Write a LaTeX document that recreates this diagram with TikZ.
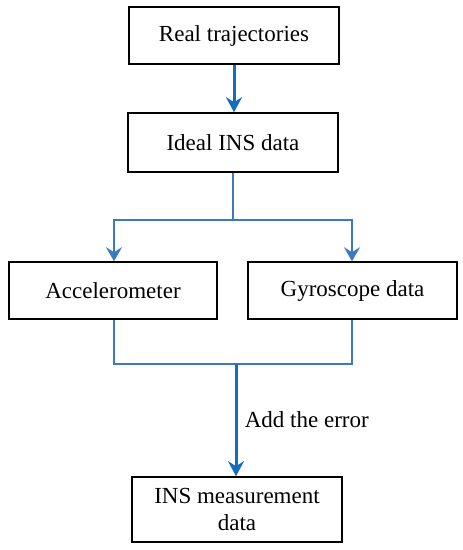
\documentclass[tikz,border=0pt]{standalone}
\usepackage{fontspec}
\setmainfont{Liberation Serif}
\usetikzlibrary{arrows.meta}
\definecolor{thickblue}{RGB}{22,108,190}
\definecolor{thinblue}{RGB}{60,122,192}
\begin{document}
\begin{tikzpicture}[x=1pt,y=-1pt,
  box/.style={draw=black,line width=1.6pt,minimum height=#1,inner sep=0pt,font=\fontsize{23}{27}\selectfont,align=center},
  box/.default=57pt,
  thick arrow/.style={draw=thickblue,line width=3pt,-{Stealth[length=15pt,width=16pt,inset=5pt]}},
  thin line/.style={draw=thinblue,line width=2pt},
  thin arrow/.style={draw=thinblue,line width=2pt,-{Stealth[length=14pt,width=16pt,inset=5pt]}}]
\useasboundingbox (0,0) rectangle (463,550);
\node[box, minimum width=210pt] (real) at (234,35.5) {Real trajectories};
\node[box=59pt, minimum width=210pt] (ideal) at (233,142.5) {Ideal INS data};
\node[box, minimum width=208pt] (acc) at (113,290.5) {Accelerometer};
\node[box, minimum width=209pt] (gyro) at (352.5,290.5) {Gyroscope data};
\node[box=65pt, minimum width=210pt] (meas) at (237,509.5) {INS measurement\\data};
\coordinate (split) at (233,220);
\coordinate (join) at (236,364);
\draw[thick arrow] (real.south) -- (real.south |- ideal.north);
\draw[thin line] (ideal.south) -- (split);
\draw[thin arrow] (split) -| ([xshift=1pt]acc.north);
\draw[thin arrow] (split) -| ([xshift=-0.5pt]gyro.north);
\draw[thin line] ([xshift=1pt]acc.south) |- (join) -| ([xshift=-0.5pt]gyro.south);
\draw[thick arrow] (join) -- (join |- meas.north) node[midway,right=4pt,font=\fontsize{23}{27}\selectfont] (lbl) {Add the error};
\end{tikzpicture}
\end{document}
